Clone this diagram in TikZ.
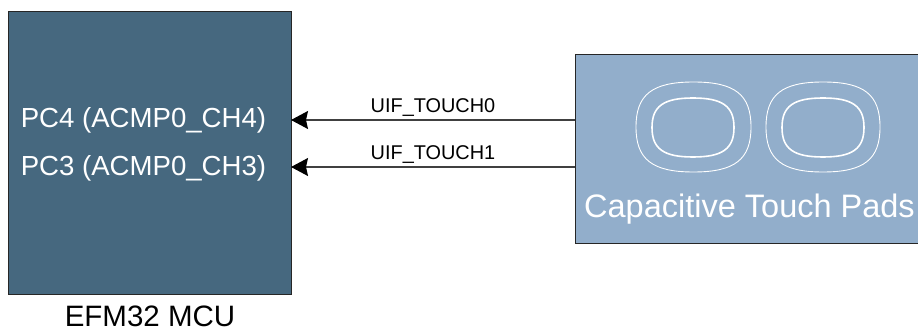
\documentclass[tikz,border=0pt]{standalone}
\usepackage{fontspec}
\setmainfont{Liberation Sans}
\usepackage{xcolor}
\usetikzlibrary{arrows.meta}
\definecolor{mcublue}{HTML}{46687F}
\definecolor{padblue}{HTML}{92AECB}
\definecolor{wiregray}{HTML}{404040}

% rounded pad outline: centre x, centre y, half width, half height, style
\newcommand{\padring}[5]{%
  \draw[#5] (#1,#2-#4)
    .. controls (#1+0.72*#3,#2-#4) and (#1+#3,#2-0.72*#4) .. (#1+#3,#2)
    .. controls (#1+#3,#2+0.72*#4) and (#1+0.72*#3,#2+#4) .. (#1,#2+#4)
    .. controls (#1-0.72*#3,#2+#4) and (#1-#3,#2+0.72*#4) .. (#1-#3,#2)
    .. controls (#1-#3,#2-0.72*#4) and (#1-0.72*#3,#2-#4) .. cycle;}

\begin{document}
\begin{tikzpicture}[
    x=1pt, y=-1pt,
    every node/.style={inner sep=0pt, outer sep=0pt},
    block/.style={draw=black!85, line width=0.8pt, rectangle},
    pin/.style={text=white, font=\fontsize{27.6}{33}\selectfont},
    wire/.style={draw=wiregray, line width=1.1pt, -{Stealth[length=17pt,width=18pt,inset=2pt,color=black]}},
    signal/.style={font=\fontsize{19.9}{24}\selectfont, anchor=south},
    padouter/.style={draw=white, line width=0.9pt},
    padinner/.style={draw=white, line width=1.6pt}
]
\useasboundingbox (0,0) rectangle (918,331);

\node[block, fill=mcublue, minimum width=283pt, minimum height=283pt] (mcu) at (149.5,152.5) {};
\node[block, fill=padblue, minimum width=344pt, minimum height=189pt] (pads) at (747,148.5) {};

\node[pin] (pcfour) at (143.5,120) {PC4 (ACMP0\_CH4)};
\node[pin] (pcthree) at (143.5,168) {PC3 (ACMP0\_CH3)};
\node[font=\fontsize{29.5}{35}\selectfont] (mculabel) at (150,316.5) {EFM32 MCU};

\padring{693.5}{127}{57.5}{45}{padouter}
\padring{693}{127.5}{41}{29.5}{padinner}
\padring{823}{127}{57}{45}{padouter}
\padring{823}{127.5}{41}{29.5}{padinner}
\node[pin, font=\fontsize{32.5}{39}\selectfont] (padslabel) at (749.5,209) {Capacitive Touch Pads};

\coordinate (touchzero) at (pads.west |- 0,120);
\coordinate (touchone) at (pads.west |- 0,167);
\coordinate (mcuzero) at (mcu.east |- 0,120);
\coordinate (mcuone) at (mcu.east |- 0,167);

\draw[wire] (touchzero) -- (mcuzero) node[signal, pos=0.50, yshift=4pt] {UIF\_TOUCH0};
\draw[wire] (touchone) -- (mcuone) node[signal, pos=0.50, yshift=4pt] {UIF\_TOUCH1};
\end{tikzpicture}
\end{document}
